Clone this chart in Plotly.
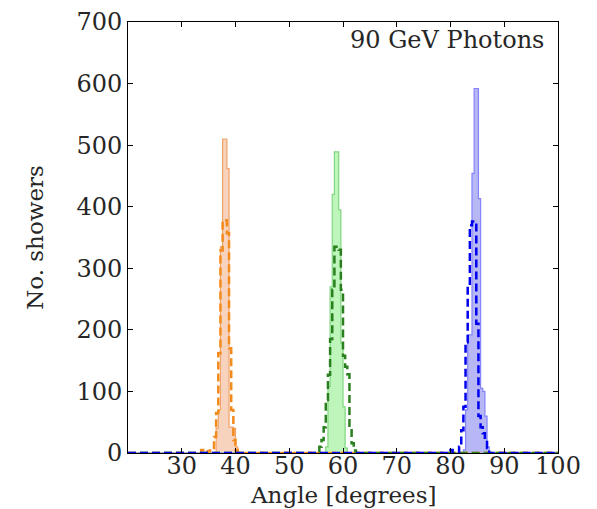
import numpy as np
import plotly.graph_objects as go

# Histogram binning: 0.4 degree bins spanning the angular range
BIN_WIDTH = 0.4
ANGLE_MIN, ANGLE_MAX = 20.0, 100.0

# Each histogram is stored as the left edge of its first non-empty bin
# followed by consecutive bin counts (all other bins are empty).
orange_fill_start = 36.4
orange_fill_counts = [40, 70, 335, 510, 510, 462, 42, 42, 40, 10]
orange_dash_start = 33.6
orange_dash_counts = [5, 0, 0, 3, 4, 8, 26, 65, 162, 329, 378, 378, 357, 170, 70, 21, 5]

green_fill_start = 56.8
green_fill_counts = [10, 108, 270, 420, 489, 489, 395, 178, 75, 8]
green_dash_start = 55.2
green_dash_counts = [3, 10, 21, 42, 86, 127, 185, 265, 335, 335, 330, 265, 158, 140, 128, 42, 16, 4]

blue_fill_start = 82.4
blue_fill_counts = [5, 70, 192, 192, 454, 592, 592, 413, 105, 100, 60, 10]
blue_dash_start = 80.0
blue_dash_counts = [5, 0, 0, 0, 10, 37, 75, 180, 272, 370, 376, 376, 210, 60, 42, 32, 21, 8]

x_ticks = [30, 40, 50, 60, 70, 80, 90, 100]
y_ticks = [0, 100, 200, 300, 400, 500, 600, 700]

edges = np.round(np.arange(ANGLE_MIN, ANGLE_MAX + BIN_WIDTH / 2, BIN_WIDTH), 4)
n_bins = len(edges) - 1


def full_counts(start, counts):
    out = np.zeros(n_bins)
    i0 = int(round((start - ANGLE_MIN) / BIN_WIDTH))
    out[i0:i0 + len(counts)] = counts
    return out


def step_xy(start, counts):
    c = full_counts(start, counts)
    x = np.concatenate([[edges[0]], edges])
    y = np.concatenate([[0.0], c, [0.0]])
    return x, y


fig = go.Figure()

series = [
    (orange_fill_start, orange_fill_counts, orange_dash_start, orange_dash_counts,
     "#f7d3bd", "#f0a468", "#f28a1c"),
    (green_fill_start, green_fill_counts, green_dash_start, green_dash_counts,
     "#bdf5bb", "#7fd87f", "#2a7f1e"),
    (blue_fill_start, blue_fill_counts, blue_dash_start, blue_dash_counts,
     "#b7b7f5", "#8484fa", "#0000ee"),
]

for fs, fc, ds, dc, fill_col, edge_col, dash_col in series:
    x, y = step_xy(fs, fc)
    fig.add_trace(go.Scatter(
        x=x, y=y, mode="lines", line=dict(shape="hv", color=edge_col, width=1.2),
        fill="tozeroy", fillcolor=fill_col, hoverinfo="skip", showlegend=False))
for fs, fc, ds, dc, fill_col, edge_col, dash_col in series:
    x, y = step_xy(ds, dc)
    fig.add_trace(go.Scatter(
        x=x, y=y, mode="lines",
        line=dict(shape="hv", color=dash_col, width=2.5, dash="8px,4px"),
        hoverinfo="skip", showlegend=False))

font_family = "DejaVu Serif"
text_color = "#262626"
axis_common = dict(
    showline=True, linecolor="black", linewidth=1, mirror="ticks",
    ticks="inside", ticklen=5, tickwidth=1, tickcolor="black",
    showgrid=False, zeroline=False, automargin=False,
    tickfont=dict(family=font_family, size=24, color=text_color),
)

fig.update_layout(
    width=597, height=509,
    margin=dict(l=128, r=39, t=22, b=56),
    paper_bgcolor="white", plot_bgcolor="white",
    xaxis=dict(range=[ANGLE_MIN, ANGLE_MAX], tickvals=x_ticks,
               ticklabelstandoff=-9, **axis_common),
    yaxis=dict(range=[0, 700], tickvals=y_ticks,
               title=dict(text="No. showers", standoff=26,
                          font=dict(family=font_family, size=23, color=text_color)),
               **axis_common),
    annotations=[
        dict(text="90 GeV Photons", xref="paper", yref="paper", x=1, y=1,
             xanchor="right", yanchor="top", xshift=-12, yshift=-2, showarrow=False,
             font=dict(family=font_family, size=24, color=text_color)),
        dict(text="Angle [degrees]", xref="paper", yref="paper", x=0.5, y=0,
             xanchor="center", yanchor="middle", yshift=-42, showarrow=False,
             font=dict(family=font_family, size=23, color=text_color)),
    ],
)

fig.write_html("out.html")
